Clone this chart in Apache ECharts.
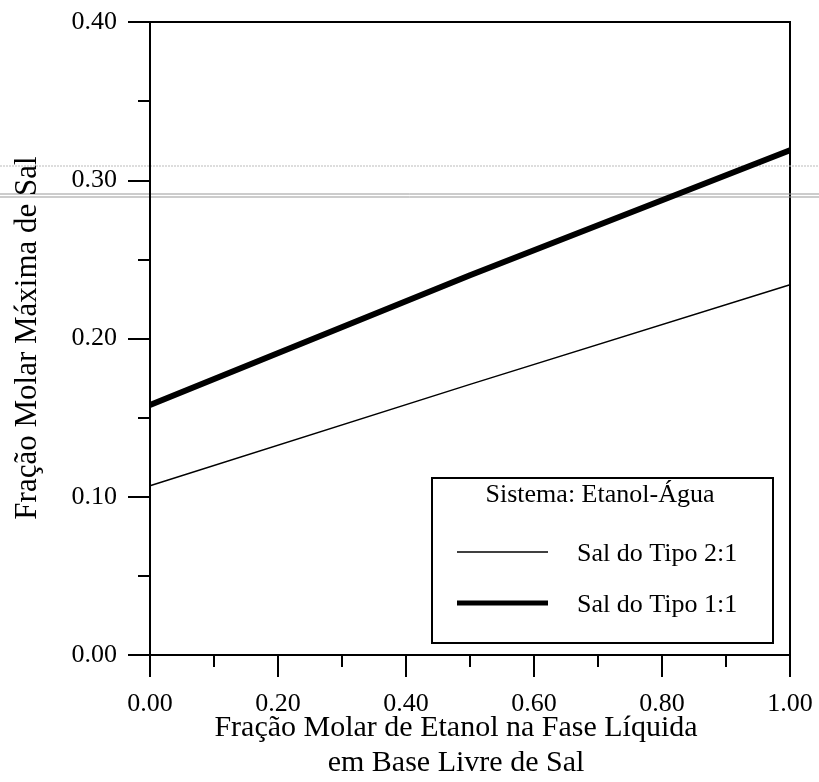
<!DOCTYPE html>
<html>
<head>
<meta charset="utf-8">
<script src="https://cdn.jsdelivr.net/npm/echarts@6/dist/echarts.min.js"></script>
<style>
html,body{margin:0;padding:0;background:#fff;}
#chart{width:819px;height:782px;}
</style>
</head>
<body>
<div id="chart"></div>
<script>
// Data
const xValues = [0.0, 0.5, 1.0];
const salTipo21 = [0.107, 0.171, 0.234];
const salTipo11 = [0.158, 0.240, 0.319];
const seriesNames = ['Sal do Tipo 2:1', 'Sal do Tipo 1:1'];
const legendTitle = 'Sistema: Etanol-Água';
const xTitleLines = ['Fração Molar de Etanol na Fase Líquida', 'em Base Livre de Sal'];
const yTitle = 'Fração Molar Máxima de Sal';

const FONT = 'Liberation Serif';
const chart = echarts.init(document.getElementById('chart'), null, {renderer: 'canvas'});

const pairs = (ys) => xValues.map((x, i) => [x, ys[i]]);
const txt = (text, x, y, size, align, extra) => Object.assign({
  type: 'text', x: x, y: y, z: 11,
  style: {text: text, fontFamily: FONT, fontSize: size, fill: '#000', align: align || 'center', verticalAlign: 'middle'}
}, extra || {});

const option = {
  backgroundColor: '#fff',
  animation: false,
  grid: {left: 150, right: 29, top: 22, bottom: 127, show: true, borderColor: '#000', borderWidth: 2, backgroundColor: 'transparent'},
  xAxis: {
    type: 'value', min: 0, max: 1, interval: 0.2,
    axisLine: {show: true, lineStyle: {color: '#000', width: 2}},
    axisTick: {show: true, inside: false, length: 22, lineStyle: {color: '#000', width: 2}},
    minorTick: {show: true, splitNumber: 2, length: 12, lineStyle: {color: '#000', width: 2}},
    splitLine: {show: false},
    axisLabel: {formatter: v => v.toFixed(2), fontFamily: FONT, fontSize: 26, color: '#000', margin: 36}
  },
  yAxis: {
    type: 'value', min: 0, max: 0.4, interval: 0.1,
    axisLine: {show: true, lineStyle: {color: '#000', width: 2}},
    axisTick: {show: true, inside: false, length: 22, lineStyle: {color: '#000', width: 2}},
    minorTick: {show: true, splitNumber: 2, length: 12, lineStyle: {color: '#000', width: 2}},
    splitLine: {show: false},
    axisLabel: {formatter: v => v.toFixed(2), fontFamily: FONT, fontSize: 26, color: '#000', margin: 33}
  },
  series: [
    {name: seriesNames[0], type: 'line', data: pairs(salTipo21), showSymbol: false, lineStyle: {color: '#000', width: 1.5}},
    {name: seriesNames[1], type: 'line', data: pairs(salTipo11), showSymbol: false, lineStyle: {color: '#000', width: 6}}
  ],
  graphic: [
    // scan artifact lines
    {type: 'line', shape: {x1: 0, y1: 166, x2: 819, y2: 166}, style: {stroke: '#bbb', lineWidth: 1, lineDash: [2, 1]}, z: 0},
    {type: 'line', shape: {x1: 0, y1: 194, x2: 819, y2: 194}, style: {stroke: '#999', lineWidth: 1}, z: 0},
    {type: 'line', shape: {x1: 0, y1: 197, x2: 819, y2: 197}, style: {stroke: '#999', lineWidth: 1}, z: 0},
    // legend box
    {type: 'rect', shape: {x: 432, y: 478, width: 341, height: 165}, style: {fill: '#fff', stroke: '#000', lineWidth: 2}, z: 10},
    txt(legendTitle, 600, 495, 26, 'center'),
    {type: 'line', shape: {x1: 457, y1: 552, x2: 548, y2: 552}, style: {stroke: '#000', lineWidth: 1.5}, z: 11},
    txt(seriesNames[0], 577, 554, 26, 'left'),
    {type: 'line', shape: {x1: 457, y1: 603, x2: 548, y2: 603}, style: {stroke: '#000', lineWidth: 5}, z: 11},
    txt(seriesNames[1], 577, 605, 26, 'left'),
    // axis titles
    txt(xTitleLines[0], 456, 728, 30, 'center'),
    txt(xTitleLines[1], 456, 763, 30, 'center'),
    txt(yTitle, 28, 338, 31, 'center', {rotation: Math.PI / 2})
  ]
};
chart.setOption(option);
</script>
</body>
</html>
